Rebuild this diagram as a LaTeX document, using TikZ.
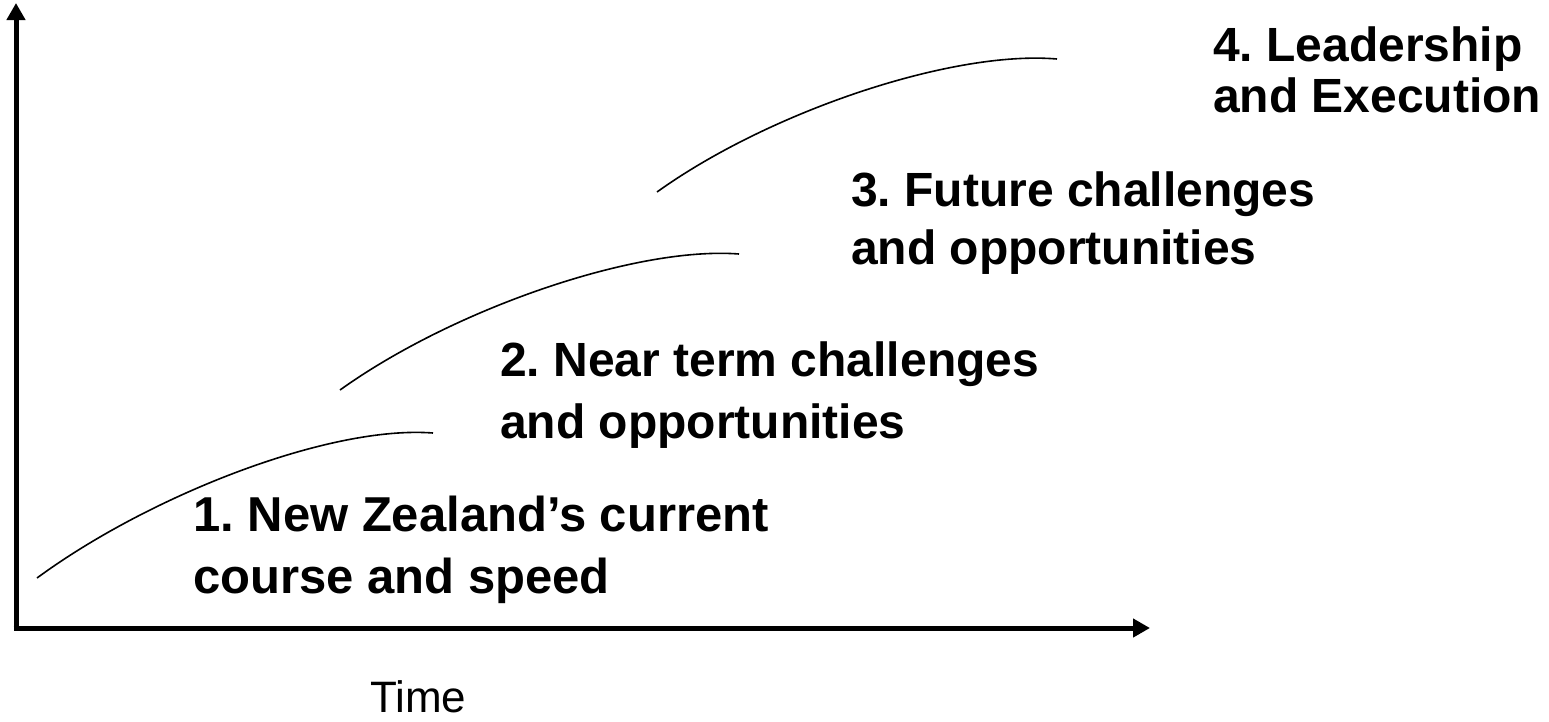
\documentclass[tikz,border=0pt]{standalone}
\usepackage{fontspec}
\setmainfont{Liberation Sans}
\usetikzlibrary{arrows.meta}
\begin{document}
\begin{tikzpicture}[x=1pt,y=-1pt,
  axis/.style={line width=5pt,-{Triangle[length=17pt,width=18pt]}},
  wave/.style={line width=1.6pt},
  label/.style 2 args={anchor=base west,inner sep=0pt,align=left,font=\frenchspacing\bfseries\fontsize{#1}{#2}\selectfont},
  timelabel/.style={anchor=base west,inner sep=0pt,font=\fontsize{44}{54}\selectfont}]
\useasboundingbox (0,0) rectangle (1549,721);
\coordinate (origin) at (16,628);
\coordinate (ytop) at (16,3);
\coordinate (xend) at (1150,628);
\draw[axis] ([yshift=2.5pt]origin) -- (ytop);
\draw[axis] ([xshift=-2.5pt]origin) -- (xend);
\draw[wave] (37,578) .. controls (150,495) and (330,425) .. (433,433);
\draw[wave] (340,390) .. controls (453,309) and (636,246) .. (739,254);
\draw[wave] (657,192) .. controls (770,111) and (953,50) .. (1057,59);
\node[label={49}{62}] (l1) at (193,593) {1. New Zealand’s current\\course and speed};
\node[label={48}{62}] (l2) at (500,438) {2. Near term challenges\\and opportunities};
\node[label={48}{58}] (l3) at (851,264) {3. Future challenges\\and opportunities};
\node[label={48}{51}] (l4) at (1213,112) {4. Leadership\\and Execution};
\node[timelabel] (time) at (370,712) {Time};
\end{tikzpicture}
\end{document}
